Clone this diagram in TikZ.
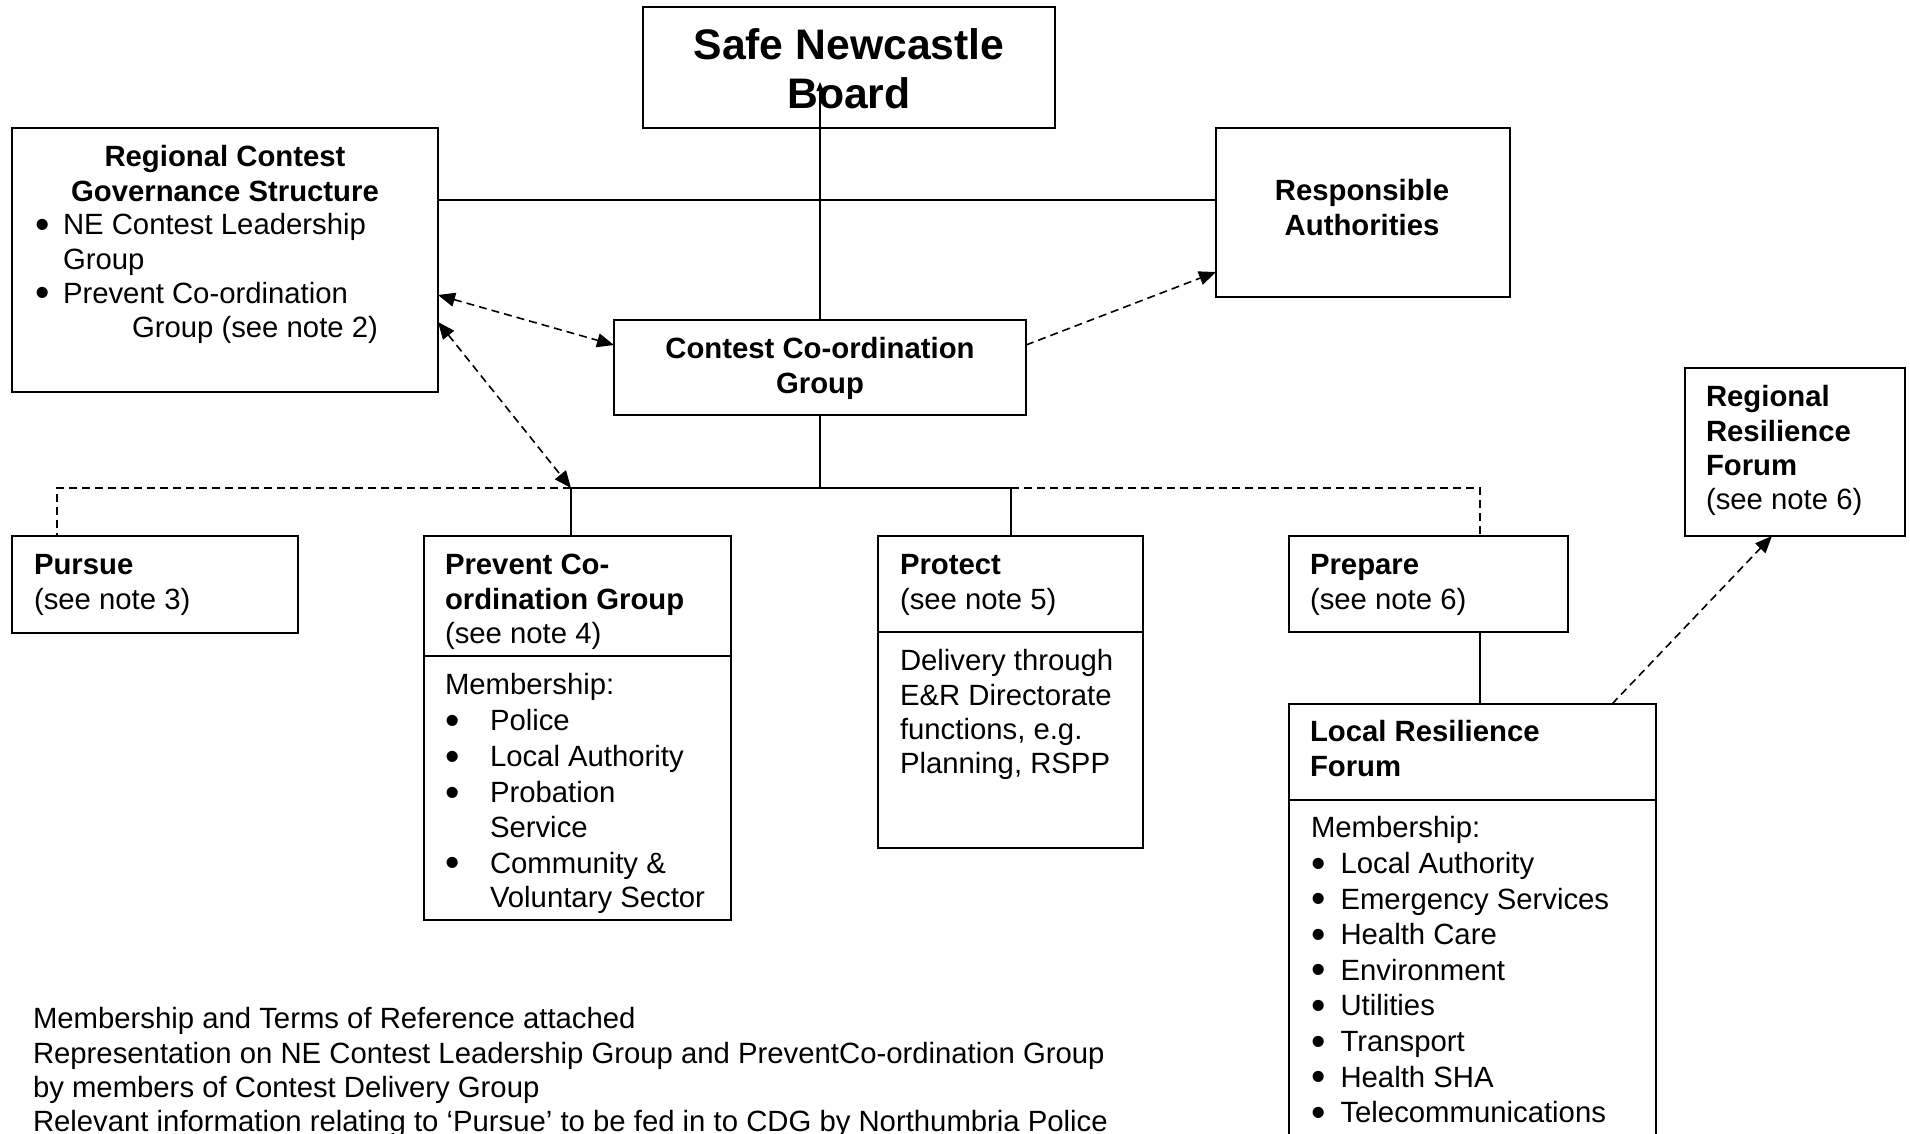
\documentclass[tikz,border=0pt]{standalone}
\usepackage{fontspec}
\setmainfont{Liberation Sans}
\usetikzlibrary{arrows.meta}
\newcommand\myBody{\fontsize{29.3pt}{34.2pt}\selectfont}
\newcommand\myList{\fontsize{29.3pt}{35.6pt}\selectfont}
\newcommand\myTitle{\fontsize{42.7pt}{49pt}\selectfont\bfseries}
\newcommand\bigbul{\smash{\raisebox{-3.5pt}{\scalebox{1.4}{•}}}}
\newcommand\pbul{\makebox[45pt][l]{\bigbul}}
\newcommand\pind{\hspace*{45pt}}
\newcommand\rbul{\makebox[28pt][l]{\bigbul}}
\newcommand\lbul{\makebox[29.5pt][l]{\bigbul}}
\begin{document}
\begin{tikzpicture}[x=1pt,y=-1pt,
  box/.style={draw, line width=1.8pt, rectangle, inner sep=0pt, outer sep=0pt, anchor=north west},
  conn/.style={line width=1.6pt},
  dsh/.style={line width=1.6pt, dash pattern=on 8pt off 5pt},
  arr/.style={-{Triangle[length=17pt,width=14pt]}},
  arrtwo/.style={{Triangle[length=17pt,width=14pt]}-{Triangle[length=17pt,width=14pt]}},
  txt/.style={inner sep=0pt, outer sep=0pt, anchor=north west, align=left, font=\myBody},
  ctxt/.style={inner sep=0pt, outer sep=0pt, anchor=north, align=center, font=\myBody\bfseries}]
\useasboundingbox (0,0) rectangle (1910,1133);

% boxes
\node[box, minimum width=412pt, minimum height=121pt] (snb) at (643,7) {};
\node[box, minimum width=426pt, minimum height=264pt] (rc) at (12,128) {};
\node[box, minimum width=294pt, minimum height=169pt] (ra) at (1216,128) {};
\node[box, minimum width=412pt, minimum height=95pt] (ccg) at (614,320) {};
\node[box, minimum width=286pt, minimum height=97pt] (pursue) at (12,536) {};
\node[box, minimum width=307pt, minimum height=384pt] (prevent) at (424,536) {};
\node[box, minimum width=265pt, minimum height=312pt] (protect) at (878,536) {};
\node[box, minimum width=279pt, minimum height=96pt] (prepare) at (1289,536) {};
\node[box, minimum width=367pt, minimum height=520pt] (lrf) at (1289,704) {};
\node[box, minimum width=220pt, minimum height=168pt] (rrf) at (1685,368) {};

% dividers
\draw[line width=1.8pt] ([yshift=-120pt]prevent.north west) -- ([yshift=-120pt]prevent.north east);
\draw[line width=1.8pt] ([yshift=-96pt]protect.north west) -- ([yshift=-96pt]protect.north east);
\draw[line width=1.8pt] ([yshift=-96pt]lrf.north west) -- ([yshift=-96pt]lrf.north east);

% texts
\node[ctxt, font=\myTitle] (tsnb) at (849,25) {\strut Safe Newcastle\\Board};
\node[ctxt] (trc) at (225,143) {\strut Regional Contest\\Governance Structure};
\node[txt] (trcl) at (35,211) {\strut\rbul NE Contest Leadership\\\hspace*{28pt}Group\\\rbul Prevent Co-ordination\\\hspace*{97pt}Group (see note 2)};
\node[ctxt] (tra) at (1362,177) {\strut Responsible\\Authorities};
\node[ctxt] (tccg) at (820,335) {\strut Contest Co-ordination\\Group};
\node[txt] (tpursue) at (34,551) {\textbf{\strut Pursue}\\(see note 3)};
\node[txt] (tprev) at (445,551) {\textbf{\strut Prevent Co-}\\\textbf{ordination Group}\\(see note 4)};
\node[txt] (tprevm) at (445,671) {\strut Membership:\\[1.8pt]\pbul Police\\[1.8pt]\pbul Local Authority\\[1.8pt]\pbul Probation\\\pind Service\\[1.8pt]\pbul Community \&\\\pind Voluntary Sector};
\node[txt] (tprot) at (900,551) {\textbf{\strut Protect}\\(see note 5)};
\node[txt] (tprotb) at (900,647) {\strut Delivery through\\E\&R Directorate\\functions, e.g.\\Planning, RSPP};
\node[txt] (tprep) at (1310,551) {\textbf{\strut Prepare}\\(see note 6)};
\node[txt] (tlrf) at (1310,718) {\textbf{\strut Local Resilience}\\\textbf{Forum}};
\node[txt, font=\myList] (tlrfm) at (1311,813) {\strut Membership:\\\lbul Local Authority\\\lbul Emergency Services\\\lbul Health Care\\\lbul Environment\\\lbul Utilities\\\lbul Transport\\\lbul Health SHA\\\lbul Telecommunications};
\node[txt] (trrf) at (1706,383) {\textbf{\strut Regional}\\\textbf{Resilience}\\\textbf{Forum}\\(see note 6)};
\node[txt] (tnotes) at (33,1005) {\strut Membership and Terms of Reference attached\\Representation on NE Contest Leadership Group and PreventCo-ordination Group\\by members of Contest Delivery Group\\Relevant information relating to ‘Pursue’ to be fed in to CDG by Northumbria Police};

% connectors
\coordinate (tip) at (820,82);
\coordinate (busL) at (571,488);
\coordinate (busR) at (1011,488);
\draw[conn, -{Triangle[length=9pt,width=7pt]}] (ccg.north) -- (tip);
\draw[conn] ([yshift=-72pt]rc.north east) -- ([yshift=-72pt]ra.north west);
\draw[conn] (ccg.south) -- (ccg.south |- busL);
\draw[conn] (busL) -- (busR);
\draw[conn] (busL) -- (busL |- prevent.north);
\draw[conn] (busR) -- (busR |- protect.north);
\draw[dsh] (busL) -| ([xshift=45pt]pursue.north west);
\draw[dsh] (busR) -| ([xshift=191pt]prepare.north west);
\draw[conn] ([xshift=191pt]prepare.south west) -- ([xshift=191pt]lrf.north west);
\draw[dsh, arr] ([yshift=-25pt]ccg.north east) -- ([yshift=-144pt]ra.north west);
\draw[dsh, arrtwo] ([yshift=-167pt]rc.north east) -- ([yshift=-25pt]ccg.north west);
\draw[dsh, arrtwo] ([yshift=-194pt]rc.north east) -- (busL);
\draw[dsh, arr] ([xshift=323pt]lrf.north west) -- ([xshift=87pt]rrf.south west);
\end{tikzpicture}
\end{document}
